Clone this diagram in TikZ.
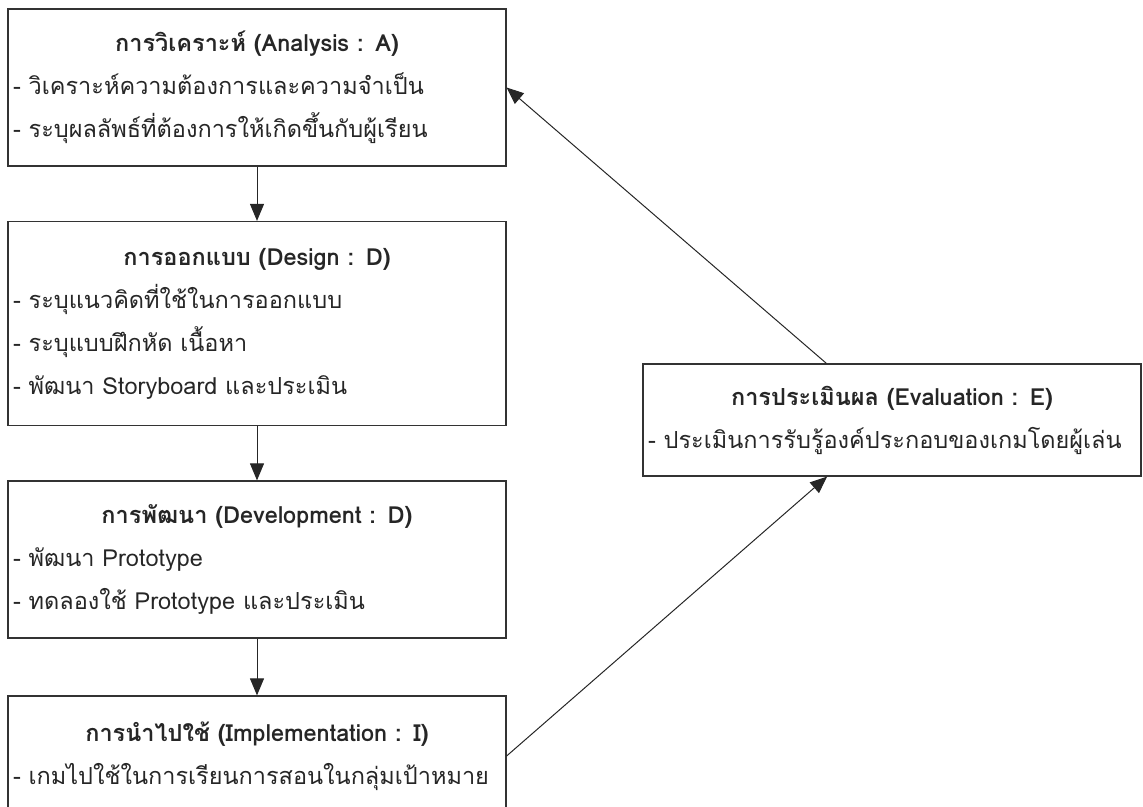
\documentclass[tikz,border=0pt]{standalone}
\usepackage{fontspec}
\setmainfont[Script=Thai]{Loma}
\usepackage{tikz}
\usetikzlibrary{arrows.meta}
\tikzstyle{stage} = [rectangle, draw=black!80, line width=1.2pt, text width=488pt, inner xsep=5pt, inner ysep=0pt, align=left, text=black!85, font=\fontsize{23.5}{43}\selectfont]
\tikzstyle{arrow} = [line width=1pt, draw=black!85, -{Triangle[length=17pt,width=14pt]}]
\newcommand{\stagetitle}[1]{{\centering\bfseries #1\par}}

\begin{document}
\begin{tikzpicture}[node distance=236pt]
\useasboundingbox (0,0) rectangle (1143pt,-806pt);
\clip (0,0) rectangle (1143pt,-806pt);

\node (anal) [stage, minimum height=157pt] at (257pt,-87.5pt) {\stagetitle{การวิเคราะห์ (Analysis : A)}- วิเคราะห์ความต้องการและความจำเป็น\\- ระบุผลลัพธ์ที่ต้องการให้เกิดขึ้นกับผู้เรียน};
\node (design) [stage, minimum height=204pt, below of=anal] {\stagetitle{การออกแบบ (Design : D)}- ระบุแนวคิดที่ใช้ในการออกแบบ\\- ระบุแบบฝึกหัด เนื้อหา\\- พัฒนา Storyboard และประเมิน};
\node (devel) [stage, minimum height=157pt, below of=design] {\stagetitle{การพัฒนา (Development : D)}- พัฒนา Prototype\\- ทดลองใช้ Prototype และประเมิน};
\node (impl) [stage, minimum height=120pt, below of=devel, yshift=39.5pt] {\stagetitle{การนำไปใช้ (Implementation : I)}- เกมไปใช้ในการเรียนการสอนในกลุ่มเป้าหมาย};
\node (eval) [stage, minimum height=112pt] at (892pt,-420pt) {\stagetitle{การประเมินผล (Evaluation : E)}- ประเมินการรับรู้องค์ประกอบของเกมโดยผู้เล่น};

\draw [arrow] (anal) -- (design);
\draw [arrow] (design) -- (devel);
\draw [arrow] (devel) -- (impl);
\draw [arrow] (impl.east) -- (eval);
\draw [arrow] (eval) -- (anal.east);

\end{tikzpicture}
\end{document}
